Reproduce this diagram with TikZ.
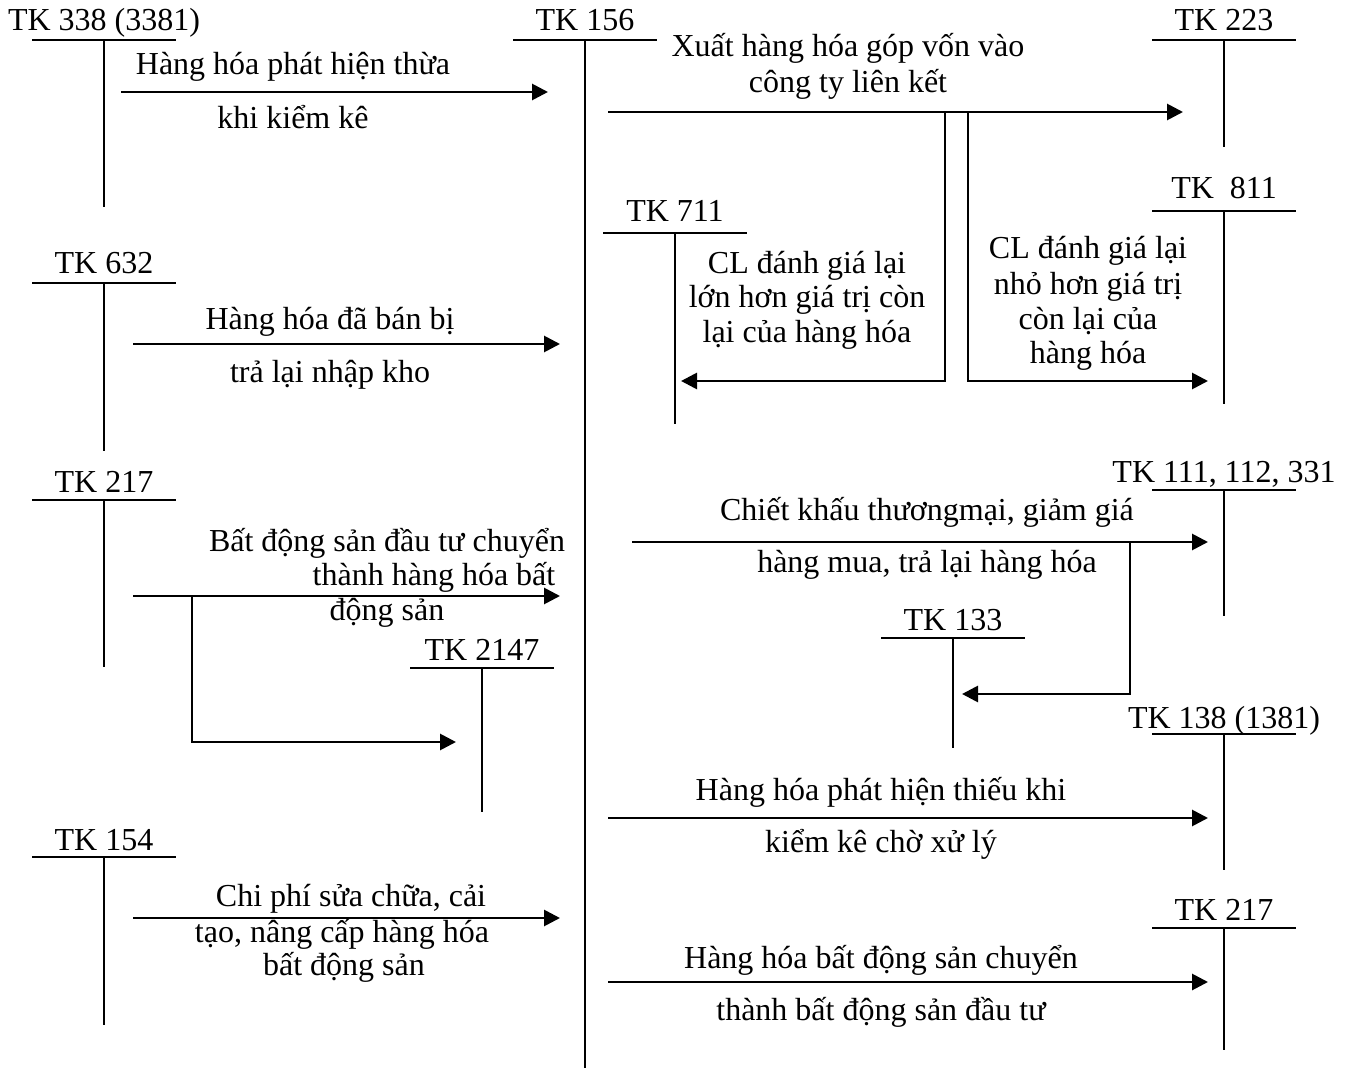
\documentclass[tikz,border=0pt]{standalone}
\usepackage{fontspec}
\setmainfont{Liberation Serif}
\usetikzlibrary{arrows.meta}
\tikzset{
  lbl/.style={anchor=base, inner sep=0pt, font=\fontsize{16}{19}\selectfont},
  barline/.style={line width=1.2pt},
  stemline/.style={line width=0.9pt},
  arr/.style={line width=1.4pt, -{Triangle[length=8pt,width=8pt]}},
  plainline/.style={line width=1.4pt}
}
\newcommand\TAcct[6]{%
  \node[lbl] (#1) at (#2,#3) {#6};
  \coordinate (#1L) at ({#2-72},#4);
  \coordinate (#1R) at ({#2+72},#4);
  \coordinate (#1T) at (#2,#4);
  \coordinate (#1B) at (#2,#5);
  \draw[barline] (#1L) -- (#1R);
  \draw[stemline] (#1T) -- (#1B);
}
\begin{document}
\begin{tikzpicture}[x=0.5pt,y=-0.5pt]
\useasboundingbox (0,0) rectangle (1349,1069);
% T accounts
\TAcct{a338}{104}{31}{40}{207}{TK 338 (3381)}
\TAcct{a156}{585}{31}{40}{1068}{TK 156}
\TAcct{a223}{1224}{31}{40}{147}{TK 223}
\TAcct{a711}{675}{222}{233}{424}{TK 711}
\TAcct{a811}{1224}{199}{211}{404}{TK\ \ 811}
\TAcct{a632}{104}{274}{283}{451}{TK 632}
\TAcct{a217}{104}{492}{500}{667}{TK 217}
\TAcct{a2147}{482}{660}{668}{812}{TK 2147}
\TAcct{a111}{1224}{482}{490}{616}{TK 111, 112, 331}
\TAcct{a133}{953}{630}{638}{748}{TK 133}
\TAcct{a138}{1224}{728}{734}{870}{TK 138 (1381)}
\TAcct{a154}{104}{850}{857}{1025}{TK 154}
\TAcct{b217}{1224}{920}{928}{1050}{TK 217}

% arrow 1: 338 -> 156
\coordinate (p1s) at (121,92); \coordinate (p1e) at (548,92);
\draw[arr] (p1s) -- (p1e);
\node[lbl] (t1a) at (293,75) {Hàng hóa phát hiện thừa};
\node[lbl] (t1b) at (293,129) {khi kiểm kê};

% arrow 2: 156 -> 223
\coordinate (p2s) at (608,112); \coordinate (p2e) at (1183,112);
\draw[arr] (p2s) -- (p2e);
\node[lbl] (t2a) at (848,57) {Xuất hàng hóa góp vốn vào};
\node[lbl] (t2b) at (848,93) {công ty liên kết};

% branches to 711 and 811
\coordinate (q1) at (945,112); \coordinate (q2) at (945,381); \coordinate (q3) at (681,381);
\draw[arr] (q1) -- (q2) -- (q3);
\coordinate (r1) at (968,112); \coordinate (r2) at (968,381); \coordinate (r3) at (1208,381);
\draw[arr] (r1) -- (r2) -- (r3);
\node[lbl] (t3a) at (807,274) {CL đánh giá lại};
\node[lbl] (t3b) at (807,308) {lớn hơn giá trị còn};
\node[lbl] (t3c) at (807,343) {lại của hàng hóa};
\node[lbl] (t4a) at (1088,259) {CL đánh giá lại};
\node[lbl] (t4b) at (1088,295) {nhỏ hơn giá trị};
\node[lbl] (t4c) at (1088,330) {còn lại của};
\node[lbl] (t4d) at (1088,364) {hàng hóa};

% arrow 632 -> 156
\coordinate (p5s) at (133,344); \coordinate (p5e) at (560,344);
\draw[arr] (p5s) -- (p5e);
\node[lbl] (t5a) at (330,330) {Hàng hóa đã bán bị};
\node[lbl] (t5b) at (330,383) {trả lại nhập kho};

% arrow 217 -> 156 and branch to 2147
\coordinate (p6s) at (133,596); \coordinate (p6e) at (560,596);
\draw[arr] (p6s) -- (p6e);
\coordinate (s1) at (192,596); \coordinate (s2) at (192,742); \coordinate (s3) at (456,742);
\draw[arr] (s1) -- (s2) -- (s3);
\node[lbl] (t6a) at (387,551) {Bất động sản đầu tư chuyển};
\node[lbl] (t6b) at (434,585) {thành hàng hóa bất};
\node[lbl] (t6c) at (387,620) {động sản};

% arrow 156 -> 111
\coordinate (p7s) at (632,542); \coordinate (p7e) at (1208,542);
\draw[arr] (p7s) -- (p7e);
\coordinate (u1) at (1130,542); \coordinate (u2) at (1130,694); \coordinate (u3) at (962,694);
\draw[arr] (u1) -- (u2) -- (u3);
\node[lbl] (t7a) at (927,520) {Chiết khấu thươngmại, giảm giá};
\node[lbl] (t7b) at (927,572) {hàng mua, trả lại hàng hóa};

% arrow 156 -> 138
\coordinate (p8s) at (608,818); \coordinate (p8e) at (1208,818);
\draw[arr] (p8s) -- (p8e);
\node[lbl] (t8a) at (881,800) {Hàng hóa phát hiện thiếu khi};
\node[lbl] (t8b) at (881,852) {kiểm kê chờ xử lý};

% arrow 154 -> 156
\coordinate (p9s) at (133,918); \coordinate (p9e) at (560,918);
\draw[arr] (p9s) -- (p9e);
\node[lbl] (t9a) at (351,906) {Chi phí sửa chữa, cải};
\node[lbl] (t9b) at (342,942) {tạo, nâng cấp hàng hóa};
\node[lbl] (t9c) at (344,975) {bất động sản};

% arrow 156 -> 217
\coordinate (p10s) at (608,982); \coordinate (p10e) at (1208,982);
\draw[arr] (p10s) -- (p10e);
\node[lbl] (t10a) at (881,968) {Hàng hóa bất động sản chuyển};
\node[lbl] (t10b) at (881,1020) {thành bất động sản đầu tư};
\end{tikzpicture}
\end{document}
